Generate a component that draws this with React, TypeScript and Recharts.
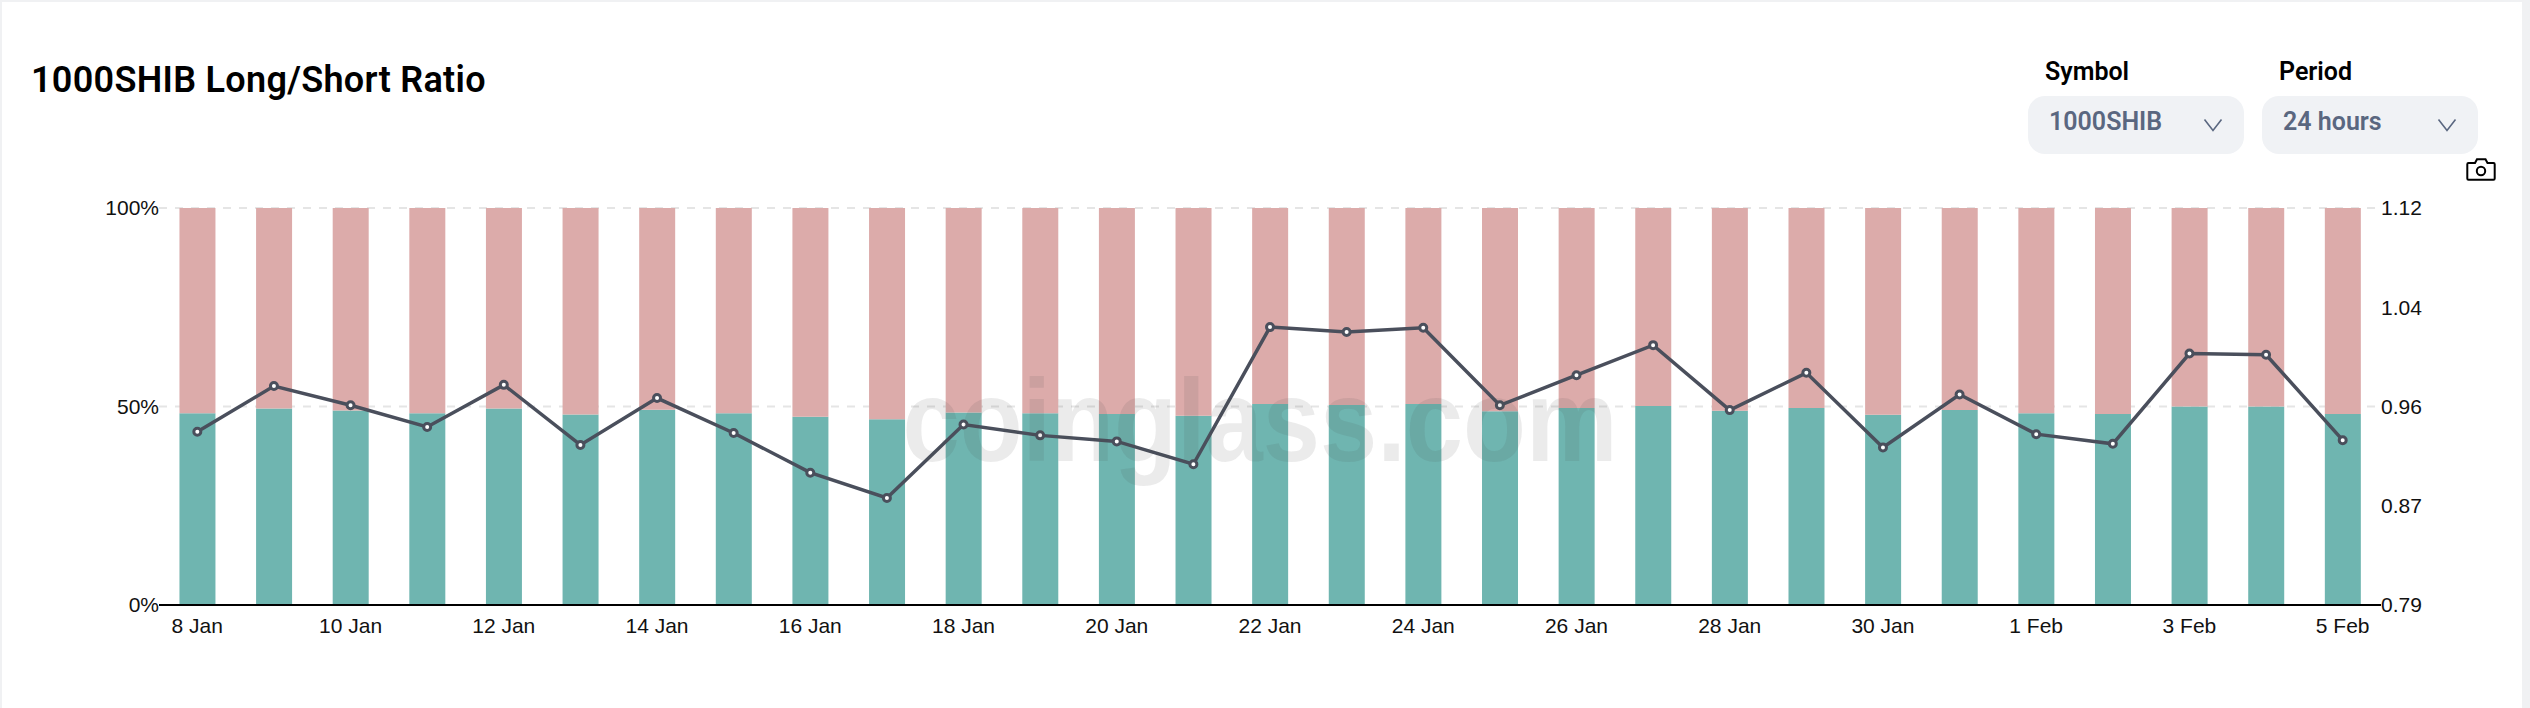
import React from "react";
import { ComposedChart, Bar, Line, XAxis, YAxis, CartesianGrid } from "recharts";

const categories = ["8 Jan","9 Jan","10 Jan","11 Jan","12 Jan","13 Jan","14 Jan","15 Jan","16 Jan","17 Jan","18 Jan","19 Jan","20 Jan","21 Jan","22 Jan","23 Jan","24 Jan","25 Jan","26 Jan","27 Jan","28 Jan","29 Jan","30 Jan","31 Jan","1 Feb","2 Feb","3 Feb","4 Feb","5 Feb"];
const longPercent = [48.3,49.5,49.0,48.3,49.5,48.0,49.2,48.3,47.4,46.8,48.5,48.3,48.1,47.7,50.6,50.4,50.6,48.8,49.6,50.1,48.9,49.6,47.9,49.1,48.3,48.1,50.0,50.0,48.1];
const shortPercent = [51.7,50.5,51.0,51.7,50.5,52.0,50.8,51.7,52.6,53.2,51.5,51.7,51.9,52.3,49.4,49.6,49.4,51.2,50.4,49.9,51.1,50.4,52.1,50.9,51.7,51.9,50.0,50.0,51.9];
const ratio = [0.934,0.972,0.956,0.938,0.973,0.923,0.962,0.933,0.900,0.879,0.940,0.931,0.926,0.907,1.021,1.017,1.0205,0.956,0.981,1.006,0.952,0.983,0.921,0.965,0.932,0.924,0.999,0.998,0.927];
const leftTicks = [0, 50, 100];
const rightTicks = [0.79, 0.8725, 0.955, 1.0375, 1.12];
const rightTickLabels = ["0.79", "0.87", "0.96", "1.04", "1.12"];

const rows = categories.map((date, i) => ({
  date,
  long: longPercent[i],
  short: shortPercent[i],
  ratio: ratio[i],
}));

const axisFont = "'Liberation Sans', Arial, sans-serif";
const uiFont = "Roboto, 'Noto Sans', sans-serif";

const Select = ({ label, value, left, labelLeft }: { label: string; value: string; left: number; labelLeft: number }) => (
  <>
    <div style={{ position: "absolute", left: labelLeft, top: 55, fontSize: 25, fontWeight: 600, lineHeight: "34px", color: "#000", fontFamily: uiFont }}>{label}</div>
    <div style={{ position: "absolute", left, top: 96, width: 216, height: 58, borderRadius: 17, background: "#F0F2F5" }} />
    <div style={{ position: "absolute", left: left + 21, top: 105, fontSize: 25, fontWeight: 600, lineHeight: "34px", color: "#5A6780", fontFamily: uiFont }}>{value}</div>
    <svg style={{ position: "absolute", left: left + 175, top: 118 }} width="20" height="14" viewBox="0 0 20 14">
      <path d="M1.5 1.5 L10 12.5 L18.5 1.5" fill="none" stroke="#5A6780" strokeWidth="1.6" />
    </svg>
  </>
);

export default function App() {
  return (
    <div style={{ position: "absolute", left: 0, top: 0, width: 2530, height: 708, background: "#F0F1F3", overflow: "hidden" }}>
      <div style={{ position: "absolute", left: 2, top: 2, width: 2520, height: 706, background: "#fff" }} />
      <div style={{ position: "absolute", left: 0, top: 0 }}>
        <ComposedChart width={2530} height={708} data={rows} margin={{ top: 208, right: 0, bottom: 0, left: 0 }} barCategoryGap="26.7%">
          <XAxis
            dataKey="date"
            interval={1}
            height={103}
            tickLine={false}
            tickSize={0}
            tickMargin={13}
            axisLine={{ stroke: "#000", strokeWidth: 2 }}
            tick={{ fontSize: 21, fill: "#111", fontFamily: axisFont }}
          />
          <YAxis
            yAxisId="left"
            orientation="left"
            width={159}
            domain={[0, 100]}
            ticks={leftTicks}
            tickFormatter={(v: number) => `${v}%`}
            axisLine={false}
            tickLine={false}
            tickSize={0}
            tickMargin={0}
            tick={{ fontSize: 21, fill: "#111", fontFamily: axisFont }}
          />
          <YAxis
            yAxisId="right"
            orientation="right"
            width={149}
            domain={[0.79, 1.12]}
            ticks={rightTicks}
            tickFormatter={(v: number) => rightTickLabels[rightTicks.indexOf(v)]}
            axisLine={false}
            tickLine={false}
            tickSize={0}
            tickMargin={0}
            tick={{ fontSize: 21, fill: "#111", fontFamily: axisFont }}
          />
          <Bar yAxisId="left" dataKey="long" stackId="a" fill="#6FB5B0" isAnimationActive={false} />
          <Bar yAxisId="left" dataKey="short" stackId="a" fill="#DCABAA" isAnimationActive={false} />
          <CartesianGrid yAxisId="left" vertical={false} horizontalValues={[50, 100]} stroke="rgba(190,190,190,0.4)" strokeWidth={2} strokeDasharray="8 8" />
          <Line
            yAxisId="right"
            dataKey="ratio"
            type="linear"
            stroke="#4A4F5C"
            strokeWidth={3.5}
            dot={{ r: 3.5, fill: "#fff", stroke: "#4A4F5C", strokeWidth: 3 }}
            isAnimationActive={false}
          />
        </ComposedChart>
      </div>
      <svg style={{ position: "absolute", left: 0, top: 0, pointerEvents: "none" }} width="2530" height="708">
        <text
          x={1260}
          y={461}
          textAnchor="middle"
          textLength={715}
          lengthAdjust="spacingAndGlyphs"
          fontSize={116}
          fontWeight={700}
          fontFamily={axisFont}
          fill="rgba(70,70,70,0.11)"
        >
          coinglass.com
        </text>
      </svg>
      <div style={{ position: "absolute", left: 31, top: 56, fontSize: 36, fontWeight: 600, letterSpacing: 0.3, lineHeight: "48px", color: "#000", fontFamily: uiFont, whiteSpace: "nowrap" }}>
        1000SHIB Long/Short Ratio
      </div>
      <Select label="Symbol" value="1000SHIB" left={2028} labelLeft={2045} />
      <Select label="Period" value="24 hours" left={2262} labelLeft={2279} />
      <svg style={{ position: "absolute", left: 2466, top: 158 }} width="30" height="23" viewBox="0 0 30 23">
        <path d="M2.5 5 H9 L11 1.2 H19.5 L21.5 5 H27.5 Q28.7 5 28.7 6.2 V20.5 Q28.7 21.7 27.5 21.7 H2.5 Q1.3 21.7 1.3 20.5 V6.2 Q1.3 5 2.5 5 Z" fill="none" stroke="#000" strokeWidth="2" />
        <circle cx="15" cy="13" r="4.2" fill="none" stroke="#000" strokeWidth="2" />
      </svg>
    </div>
  );
}
